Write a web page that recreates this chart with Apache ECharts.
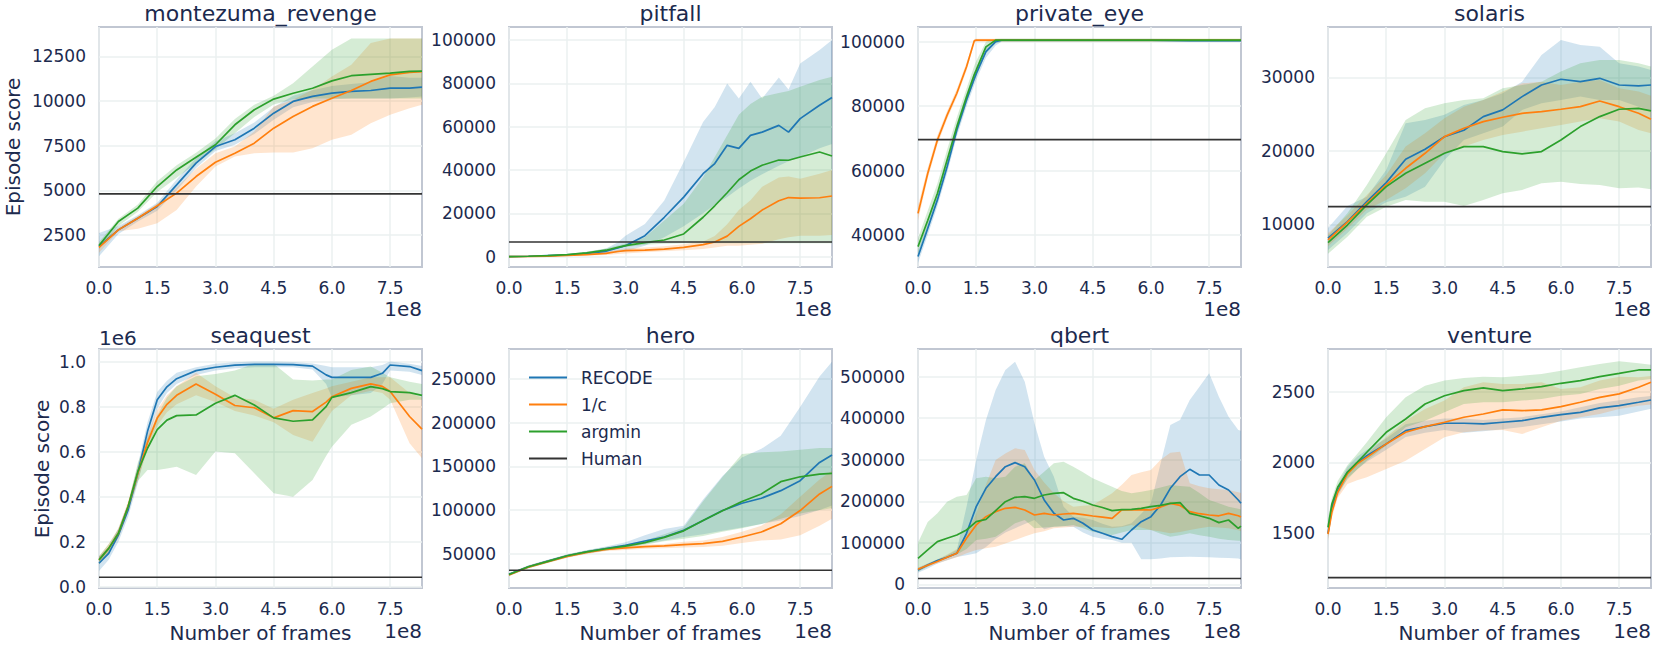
<!DOCTYPE html>
<html><head><meta charset="utf-8">
<script src="https://cdn.jsdelivr.net/npm/echarts@6/dist/echarts.min.js"></script>
<style>html,body{margin:0;padding:0;background:#fff}#c{width:1656px;height:648px}</style>
</head><body><div id="c"></div>
<script>
// ---------- data (frames in units of 1e8; seaquest scores in units of 1e6) ----------
const METHODS = ['RECODE', '1/c', 'argmin'];
const GAME_NAMES = ['montezuma_revenge', 'pitfall', 'private_eye', 'solaris', 'seaquest', 'hero', 'qbert', 'venture'];
const HUMAN = [4800, 6800, 69600, 12400, 0.042, 30800, 14000, 1187];
const X_TICKS = [0, 1.5, 3, 4.5, 6, 7.5];

const FRAMES_A = [0,0.5,1,1.5,2,2.5,3,3.5,4,4.5,5,5.5,6,6.5,7,7.5,8,8.32];

// montezuma_revenge
const MR_RECODE    = [1850,2780,3430,4090,5300,6520,7450,7830,8480,9320,9980,10260,10440,10540,10590,10720,10720,10780];
const MR_RECODE_LO = [1300,2550,3250,3850,5000,6250,7200,7550,8150,8950,9650,9950,10100,10150,10150,10150,10200,10250];
const MR_RECODE_HI = [2600,3000,3600,4300,5600,6800,7750,8200,8800,9650,10300,10600,10850,10950,11050,11400,11300,11300];
const MR_INV       = [1800,2780,3430,4130,4840,5770,6570,7080,7640,8480,9130,9700,10160,10590,11100,11470,11600,11650];
const MR_INV_LO    = [1500,2700,2850,3150,3900,5210,6330,6890,7080,7120,7120,7360,7830,8110,8760,9230,9600,9790];
const MR_INV_HI    = [2000,2900,3550,4250,5150,6200,7080,7450,8290,9700,10070,10630,11380,12030,13250,13500,13500,13500];
const MR_ARG       = [1900,3250,4000,5210,6140,6850,7550,8670,9510,10110,10440,10720,11130,11420,11490,11560,11660,11680];
const MR_ARG_LO    = [1700,3000,3800,4900,5700,6500,7300,8200,9100,9800,10100,10150,10150,10150,10150,10150,10150,10150];
const MR_ARG_HI    = [2100,3400,4200,5500,6400,7100,7900,9000,9790,10300,11000,11940,12870,13500,13500,13500,13500,13500];
const MR_YTICKS    = [2500,5000,7500,10000,12500];

// pitfall
const FRAMES_PF    = [0,0.5,1,1.5,2,2.5,2.8,3,3.5,4,4.5,5,5.3,5.62,5.92,6.22,6.52,6.95,7.2,7.5,8,8.32];
const PF_RECODE    = [0,200,500,800,1500,2500,4000,5100,9700,18200,27500,38300,43000,51400,50000,56000,57500,60600,57500,63700,69900,73500];
const PF_RECODE_LO = [0,0,200,400,900,1500,2000,2500,5000,9000,14000,20000,24000,27500,31500,35000,38000,42000,44000,46000,50000,52000];
const PF_RECODE_HI = [0,400,800,1300,2200,3800,6600,9700,15100,25900,43700,62200,69100,79900,73000,80700,73000,82700,77200,89200,95400,100000];
const PF_INV       = [0,100,300,600,1000,1500,2400,2800,3000,3500,4300,5600,6800,9500,14000,17500,21500,25800,27300,27000,27200,28000];
const PF_INV_LO    = [0,0,100,300,500,800,1200,1500,2000,2500,3000,3500,4200,5000,5100,5500,6000,8000,9000,9700,9700,10000];
const PF_INV_HI    = [0,200,500,900,1500,2200,3200,3800,4200,4800,5800,7000,9500,15000,21500,26000,32300,36500,37000,36000,38300,40000];
const PF_ARG       = [0,200,500,1000,1800,3000,4300,5100,6500,7700,10500,18200,23500,29500,35500,39500,42200,44600,44500,46000,48300,46500];
const PF_ARG_LO    = [0,100,300,700,1300,2300,3800,4500,5500,6000,6200,6200,6200,6200,6200,6200,6200,6200,6200,6200,6200,6200];
const PF_ARG_HI    = [0,300,700,1300,2300,3800,5200,6000,9000,16700,24400,36700,46000,56000,65500,70500,73800,75500,76500,78400,81500,83000];
const PF_YTICKS    = [0,20000,40000,60000,80000,100000];

// private_eye
const FRAMES_PE    = [0,0.25,0.5,0.75,1,1.25,1.45,1.5,1.75,2,2.15,2.5,3,4,5,6,7,8,8.32];
const PE_RECODE    = [33300,42000,50900,61200,72600,81900,88500,90100,96900,100000,100500,100500,100500,100500,100500,100500,100300,100300,100300];
const PE_RECODE_LO = [31300,40000,48900,59200,70600,79900,86500,88100,95000,98800,100000,100000,100000,100000,100000,100000,99900,99900,99900];
const PE_RECODE_HI = [35000,44000,52900,63200,74600,83900,90500,92100,98500,100800,100900,100900,100900,100900,100900,100900,100800,100800,100800];
const PE_INV       = [46700,59100,69500,77200,84000,92200,100300,100500,100500,100500,100500,100500,100500,100500,100500,100500,100500,100500,100500];
const PE_INV_LO    = [44500,57500,68000,76000,82800,91000,99800,100000,100000,100000,100000,100000,100000,100000,100000,100000,100000,100000,100000];
const PE_INV_HI    = [49000,60800,71000,78500,85300,93500,100800,100900,100900,100900,100900,100900,100900,100900,100900,100900,100900,100900,100900];
const PE_ARG       = [36400,44500,52900,63300,73600,82900,89800,91200,98400,100500,100500,100500,100500,100500,100500,100500,100500,100500,100500];
const PE_ARG_LO    = [34000,42000,50500,61000,71500,80900,87800,89200,96400,99500,100000,100000,100000,100000,100000,100000,100000,100000,100000];
const PE_ARG_HI    = [39000,47500,56000,66500,76500,85500,92500,94000,100000,100900,100900,100900,100900,100900,100900,100900,100900,100900,100900];
const PE_YTICKS    = [40000,60000,80000,100000];

// solaris
const SO_RECODE    = [8100,10360,13080,15670,18840,20200,21900,22800,24650,25560,27370,28950,29730,29410,29860,28950,28820,28950];
const SO_RECODE_LO = [6500,8800,11500,13000,13760,15100,18750,21470,22380,23290,25560,26460,26900,27370,26900,26900,26000,25500];
const SO_RECODE_HI = [9500,12500,13760,17400,23740,24200,24900,26240,26900,27820,29400,33040,35080,34400,34170,31900,31450,31000];
const SO_INV       = [7870,10300,12860,15350,17620,19660,21930,23060,23970,24560,25100,25330,25650,26000,26780,26000,25100,24290];
const SO_INV_LO    = [7000,9400,12000,13300,14900,16940,19660,20570,21470,22150,22600,23060,23510,23970,24420,23970,22830,22380];
const SO_INV_HI    = [8800,11200,14000,16700,20570,22380,24420,26000,26900,28050,29180,29400,28950,29400,29640,28500,28050,27500];
const SO_ARG       = [7500,9900,12630,15120,16940,18300,19660,20570,20570,19890,19570,19890,21470,23290,24650,25650,25780,25420];
const SO_ARG_LO    = [6000,8300,11040,12400,13310,13080,13080,12490,13310,14220,14670,15580,15800,15490,15350,14900,14990,14760];
const SO_ARG_HI    = [8500,11500,15350,19660,24200,25780,26460,26900,27140,28500,28950,29400,30770,31900,32360,32360,31900,31450];
const SO_YTICKS    = [10000,20000,30000];

// seaquest (x1e6)
const FRAMES_SQ    = [0,0.25,0.5,0.75,1,1.25,1.5,1.75,2,2.5,3,3.5,4,4.5,5,5.5,5.85,6,6.5,7,7.3,7.5,8,8.32];
const SQ_RECODE    = [0.104,0.148,0.230,0.341,0.504,0.690,0.830,0.888,0.924,0.960,0.975,0.984,0.988,0.988,0.987,0.980,0.941,0.930,0.930,0.930,0.948,0.985,0.978,0.960];
const SQ_RECODE_LO = [0.070,0.120,0.200,0.310,0.460,0.640,0.790,0.860,0.900,0.940,0.960,0.970,0.975,0.975,0.975,0.965,0.900,0.840,0.850,0.860,0.900,0.960,0.955,0.940];
const SQ_RECODE_HI = [0.135,0.175,0.260,0.370,0.540,0.730,0.865,0.915,0.950,0.975,0.990,0.997,1.000,1.000,0.998,0.992,0.980,0.975,0.975,0.975,0.985,1.000,0.990,0.980];
const SQ_INV       = [0.119,0.170,0.237,0.356,0.504,0.640,0.749,0.810,0.850,0.900,0.855,0.805,0.795,0.750,0.782,0.778,0.820,0.844,0.881,0.901,0.890,0.867,0.756,0.700];
const SQ_INV_LO    = [0.100,0.150,0.215,0.330,0.470,0.610,0.715,0.775,0.810,0.850,0.820,0.780,0.760,0.730,0.674,0.644,0.740,0.780,0.850,0.870,0.860,0.830,0.637,0.570];
const SQ_INV_HI    = [0.135,0.190,0.260,0.380,0.535,0.675,0.785,0.850,0.890,0.950,0.890,0.840,0.830,0.790,0.830,0.860,0.880,0.890,0.910,0.930,0.930,0.930,0.860,0.840];
const SQ_ARG       = [0.119,0.170,0.237,0.356,0.511,0.615,0.698,0.740,0.760,0.763,0.815,0.850,0.807,0.750,0.735,0.741,0.800,0.841,0.862,0.889,0.880,0.867,0.862,0.850];
const SQ_ARG_LO    = [0.100,0.150,0.220,0.340,0.470,0.518,0.518,0.525,0.533,0.496,0.600,0.593,0.504,0.415,0.400,0.474,0.580,0.622,0.719,0.756,0.790,0.815,0.830,0.830];
const SQ_ARG_HI    = [0.135,0.190,0.255,0.370,0.550,0.660,0.760,0.840,0.890,0.935,0.945,0.960,0.990,0.990,0.920,0.916,0.920,0.920,0.963,0.978,0.950,0.930,0.910,0.900];
const SQ_YTICKS    = [0,0.2,0.4,0.6,0.8,1.0];

// hero
const HE_RECODE    = [26100,34800,41300,47300,51900,55700,59500,64400,69000,76600,88000,99300,107700,113400,122100,133500,154400,163000];
const HE_RECODE_LO = [24500,33000,39500,45500,50000,53500,57000,61000,65000,69000,72000,76000,80000,84000,88000,93000,100000,105000];
const HE_RECODE_HI = [27500,36500,43000,49000,53800,58000,63000,71000,78000,82000,112000,139000,160000,170000,185000,218000,253000,270000];
const HE_INV       = [25500,34500,40800,46800,51200,54800,56500,58000,58700,60200,61400,64000,69000,74700,84200,99300,118300,127000];
const HE_INV_LO    = [24000,33000,39300,45300,49600,53000,54000,55500,56000,57000,57500,59000,62000,65000,66000,71000,82000,90000];
const HE_INV_HI    = [27000,36000,42300,48300,52800,56600,58500,60000,61000,63500,65000,69000,75000,82000,95000,115000,135000,145000];
const HE_ARG       = [26000,34800,41000,47500,52000,55500,58500,62500,68500,76000,88000,99000,109600,118300,132400,138000,141100,142000];
const HE_ARG_LO    = [24500,33200,39400,45800,50200,53600,56500,60000,64000,67000,70000,75000,79000,84000,90000,96000,100000,102000];
const HE_ARG_HI    = [27500,36400,42600,49200,53800,57400,60500,65000,72000,80000,110000,137700,164000,166000,167000,169000,171000,171000];
const HE_YTICKS    = [50000,100000,150000,200000,250000];

// qbert
const FRAMES_QB    = [0,0.25,0.5,0.75,1,1.25,1.5,1.75,2,2.25,2.5,2.75,3,3.25,3.5,3.75,4,4.25,4.5,4.75,5,5.25,5.5,5.75,6,6.25,6.5,6.75,7,7.25,7.5,7.75,8,8.25,8.32];
const QB_RECODE    = [34500,46500,57000,65000,74600,122800,187000,231200,259200,283300,293000,283300,251200,203100,171000,154900,158900,146900,130800,122800,114800,108400,130800,150900,162900,191000,231200,259200,276900,263300,263300,239200,227100,203100,195000];
const QB_RECODE_LO = [28000,38000,50000,58000,66000,70000,75000,90000,110000,125000,135000,145000,154900,132400,138800,140000,138800,125000,114800,110000,106700,100000,100000,60200,60200,62000,65000,66000,66600,66000,65000,64000,63400,62000,60000];
const QB_RECODE_HI = [40000,50000,60000,70000,82700,187000,299400,395700,468000,516100,536000,488000,387600,307400,259200,187000,162900,160000,154900,146000,138800,140000,146900,170000,195000,291300,383600,395700,443800,475900,508000,451900,403700,371600,370000];
const QB_INV       = [36100,46000,55000,65000,74600,110800,142900,162900,175000,183000,185400,179000,166900,171000,166900,169300,171000,168000,164500,162000,158900,179000,179000,180000,179000,186000,195000,190000,175000,170000,166900,165000,171000,165000,162000];
const QB_INV_LO    = [32000,42000,50000,58000,65000,75000,82700,87000,90700,98000,106700,115000,122800,128000,134800,137000,138800,138800,138800,137000,134800,138000,142900,137000,130800,127000,122800,126000,130800,135000,138800,137000,134800,130000,128000];
const QB_INV_HI    = [40000,50000,60000,72000,85000,125000,170000,240000,299400,315000,327500,323500,275300,245000,219100,200000,187000,189000,191000,205000,219100,240000,263300,270000,275300,300000,317000,319400,243200,236000,231200,229000,227100,222000,220000];
const QB_ARG       = [62600,82700,102700,110800,118800,130800,150900,156500,177400,199000,209500,211100,207100,215100,219100,220700,207100,200000,191000,185000,177400,180000,180600,183000,187000,190000,195000,196600,171000,165000,158900,148500,154900,134800,140000];
const QB_ARG_LO    = [30000,42000,55000,64000,72000,85000,106700,110000,114800,130000,146900,154900,134800,137000,138800,140000,142900,135000,126800,122000,118800,125000,130800,130800,130800,122000,114800,118000,122800,118000,114800,110000,106700,105000,105000];
const QB_ARG_HI    = [100000,150000,171000,199000,211100,215100,255200,259200,255200,259200,283300,291300,251200,271300,291300,295400,283300,270000,255200,245000,235200,225000,219100,223000,227100,233000,239200,237000,235200,220000,203100,195000,187000,182000,180000];
const QB_YTICKS    = [0,100000,200000,300000,400000,500000];

// venture
const FRAMES_VE    = [0,0.1,0.25,0.5,0.75,1,1.5,2,2.5,3,3.5,4,4.5,5,5.5,6,6.5,7,7.5,8,8.32];
const VE_RECODE    = [1500,1680,1800,1931,1995,2048,2131,2225,2253,2277,2277,2272,2284,2295,2319,2338,2354,2385,2401,2425,2441];
const VE_RECODE_LO = [1460,1640,1760,1890,1950,2005,2090,2180,2210,2230,2210,2220,2235,2250,2270,2290,2310,2320,2330,2360,2380];
const VE_RECODE_HI = [1540,1720,1840,1970,2040,2090,2170,2270,2295,2310,2310,2300,2310,2320,2340,2360,2390,2420,2440,2460,2470];
const VE_INV       = [1495,1650,1789,1919,1990,2036,2131,2213,2253,2284,2319,2342,2371,2366,2371,2394,2425,2460,2484,2531,2566];
const VE_INV_LO    = [1450,1610,1750,1848,1875,1895,1954,2013,2095,2178,2213,2225,2229,2201,2248,2295,2319,2342,2378,2401,2410];
const VE_INV_HI    = [1530,1690,1820,1950,2010,2060,2180,2295,2378,2437,2531,2566,2554,2554,2566,2519,2531,2578,2606,2601,2610];
const VE_ARG       = [1542,1707,1825,1931,2001,2072,2213,2307,2413,2471,2507,2526,2507,2519,2535,2559,2578,2606,2629,2653,2653];
const VE_ARG_LO    = [1480,1660,1780,1880,1950,2013,2119,2248,2295,2354,2413,2425,2425,2437,2448,2471,2484,2519,2542,2578,2590];
const VE_ARG_HI    = [1600,1750,1870,1980,2060,2142,2319,2460,2542,2578,2597,2606,2601,2613,2625,2648,2672,2695,2714,2700,2690];
const VE_YTICKS    = [1500,2000,2500];

// ---------- chart ----------
const GAMES = [
  {x: FRAMES_A,  mean: [MR_RECODE, MR_INV, MR_ARG], lo: [MR_RECODE_LO, MR_INV_LO, MR_ARG_LO], hi: [MR_RECODE_HI, MR_INV_HI, MR_ARG_HI], yt: MR_YTICKS, ymin: 700,    ymax: 14150},
  {x: FRAMES_PF, mean: [PF_RECODE, PF_INV, PF_ARG], lo: [PF_RECODE_LO, PF_INV_LO, PF_ARG_LO], hi: [PF_RECODE_HI, PF_INV_HI, PF_ARG_HI], yt: PF_YTICKS, ymin: -4750,  ymax: 106000},
  {x: FRAMES_PE, mean: [PE_RECODE, PE_INV, PE_ARG], lo: [PE_RECODE_LO, PE_INV_LO, PE_ARG_LO], hi: [PE_RECODE_HI, PE_INV_HI, PE_ARG_HI], yt: PE_YTICKS, ymin: 30070,  ymax: 104560},
  {x: FRAMES_A,  mean: [SO_RECODE, SO_INV, SO_ARG], lo: [SO_RECODE_LO, SO_INV_LO, SO_ARG_LO], hi: [SO_RECODE_HI, SO_INV_HI, SO_ARG_HI], yt: SO_YTICKS, ymin: 4190,   ymax: 36840},
  {x: FRAMES_SQ, mean: [SQ_RECODE, SQ_INV, SQ_ARG], lo: [SQ_RECODE_LO, SQ_INV_LO, SQ_ARG_LO], hi: [SQ_RECODE_HI, SQ_INV_HI, SQ_ARG_HI], yt: SQ_YTICKS, ymin: -0.006, ymax: 1.056, dec: 1},
  {x: FRAMES_A,  mean: [HE_RECODE, HE_INV, HE_ARG], lo: [HE_RECODE_LO, HE_INV_LO, HE_ARG_LO], hi: [HE_RECODE_HI, HE_INV_HI, HE_ARG_HI], yt: HE_YTICKS, ymin: 10500,  ymax: 284500},
  {x: FRAMES_QB, mean: [QB_RECODE, QB_INV, QB_ARG], lo: [QB_RECODE_LO, QB_INV_LO, QB_ARG_LO], hi: [QB_RECODE_HI, QB_INV_HI, QB_ARG_HI], yt: QB_YTICKS, ymin: -8900,  ymax: 566700},
  {x: FRAMES_VE, mean: [VE_RECODE, VE_INV, VE_ARG], lo: [VE_RECODE_LO, VE_INV_LO, VE_ARG_LO], hi: [VE_RECODE_HI, VE_INV_HI, VE_ARG_HI], yt: VE_YTICKS, ymin: 1114,   ymax: 2801}
];

const X_MAX = 8.32;
const COLORS = ['#1f77b4', '#ff7f0e', '#2ca02c'];
const BAND = ['rgba(31,119,180,0.2)', 'rgba(255,127,14,0.2)', 'rgba(44,160,44,0.2)'];
const HUMAN_COLOR = '#333333';
const TEXT = '#1c2a4e';
const FONT = 'DejaVu Sans';
const GRIDC = '#ebf1f1';
const BORDER = '#c1c7d2';
const COL_LEFT = [99, 509, 918, 1328];
const PLOT_W = 323;
const ROW_TOP = [27, 349];
const PLOT_H = [240, 239];

const grids = [], xAxes = [], yAxes = [], series = [], graphics = [];

function bandRenderer(xs, lo, hi, color) {
  return function (params, api) {
    if (params.dataIndex !== 0) return null;
    const pts = [];
    for (let i = 0; i < xs.length; i++) pts.push(api.coord([xs[i], hi[i]]));
    for (let i = xs.length - 1; i >= 0; i--) pts.push(api.coord([xs[i], lo[i]]));
    return {type: 'polygon', shape: {points: pts}, style: {fill: color, stroke: null}, silent: true};
  };
}

GAMES.forEach((g, k) => {
  const r = Math.floor(k / 4), c = k % 4;
  const left = COL_LEFT[c], top = ROW_TOP[r], h = PLOT_H[r];
  grids.push({left: left, top: top, width: PLOT_W, height: h, show: true, borderColor: BORDER, borderWidth: 2, backgroundColor: 'transparent', containLabel: false});
  xAxes.push({
    gridIndex: k, type: 'value', min: 0, max: X_MAX,
    axisLine: {show: false},
    axisTick: {show: false, customValues: X_TICKS},
    axisLabel: {customValues: X_TICKS, formatter: v => v.toFixed(1), fontSize: 17, color: TEXT, fontFamily: FONT, margin: 12},
    splitLine: {show: true, lineStyle: {color: GRIDC, width: 1.5}}
  });
  yAxes.push({
    gridIndex: k, type: 'value', min: g.ymin, max: g.ymax,
    axisLine: {show: false},
    axisTick: {show: false, customValues: g.yt},
    axisLabel: {customValues: g.yt, formatter: v => g.dec ? v.toFixed(g.dec) : String(Math.round(v)), fontSize: 17, color: TEXT, fontFamily: FONT, margin: 13},
    splitLine: {show: true, lineStyle: {color: GRIDC, width: 1.5}}
  });
  for (let m = 0; m < 3; m++) {
    series.push({type: 'custom', xAxisIndex: k, yAxisIndex: k, silent: true, z: 1, clip: true,
      data: g.x.map((x, i) => [x, g.lo[m][i], g.hi[m][i]]), encode: {x: 0, y: [1, 2]},
      renderItem: bandRenderer(g.x, g.lo[m], g.hi[m], BAND[m])});
  }
  for (let m = 0; m < 3; m++) {
    series.push({type: 'line', name: METHODS[m], xAxisIndex: k, yAxisIndex: k, symbol: 'none', silent: true, z: 3,
      color: COLORS[m], lineStyle: {color: COLORS[m], width: 1.7}, data: g.x.map((x, i) => [x, g.mean[m][i]])});
  }
  series.push({type: 'line', name: 'Human', xAxisIndex: k, yAxisIndex: k, symbol: 'none', silent: true, z: 4,
    color: HUMAN_COLOR, lineStyle: {color: HUMAN_COLOR, width: 1.6}, data: [[0, HUMAN[k]], [X_MAX, HUMAN[k]]]});

  graphics.push({type: 'text', x: left + PLOT_W / 2, y: r === 0 ? 13 : 335, silent: true,
    style: {text: GAME_NAMES[k], fontSize: 22, fontFamily: FONT, fill: TEXT, align: 'center', verticalAlign: 'middle'}});
  graphics.push({type: 'text', x: left + PLOT_W, y: r === 0 ? 309 : 631, silent: true,
    style: {text: '1e8', fontSize: 20, fontFamily: FONT, fill: TEXT, align: 'right', verticalAlign: 'middle'}});
  if (r === 1) {
    graphics.push({type: 'text', x: left + PLOT_W / 2, y: 633, silent: true,
      style: {text: 'Number of frames', fontSize: 20, fontFamily: FONT, fill: TEXT, align: 'center', verticalAlign: 'middle'}});
  }
});

graphics.push({type: 'text', x: 13, y: 147, rotation: Math.PI / 2, silent: true,
  style: {text: 'Episode score', fontSize: 20, fontFamily: FONT, fill: TEXT, align: 'center', verticalAlign: 'middle'}});
graphics.push({type: 'text', x: 42, y: 469, rotation: Math.PI / 2, silent: true,
  style: {text: 'Episode score', fontSize: 20, fontFamily: FONT, fill: TEXT, align: 'center', verticalAlign: 'middle'}});
graphics.push({type: 'text', x: 99, y: 338, silent: true,
  style: {text: '1e6', fontSize: 20, fontFamily: FONT, fill: TEXT, align: 'left', verticalAlign: 'middle'}});

const chart = echarts.init(document.getElementById('c'), null, {renderer: 'svg'});
chart.setOption({
  backgroundColor: '#ffffff',
  animation: false,
  grid: grids, xAxis: xAxes, yAxis: yAxes, series: series,
  legend: {
    data: ['RECODE', '1/c', 'argmin', 'Human'], orient: 'vertical', left: 524, top: 364,
    icon: 'rect', itemWidth: 38, itemHeight: 2, itemGap: 10, selectedMode: false,
    textStyle: {fontSize: 17, color: TEXT, fontFamily: FONT, padding: [0, 0, 0, 9]}
  },
  graphic: graphics
});
</script></body></html>
